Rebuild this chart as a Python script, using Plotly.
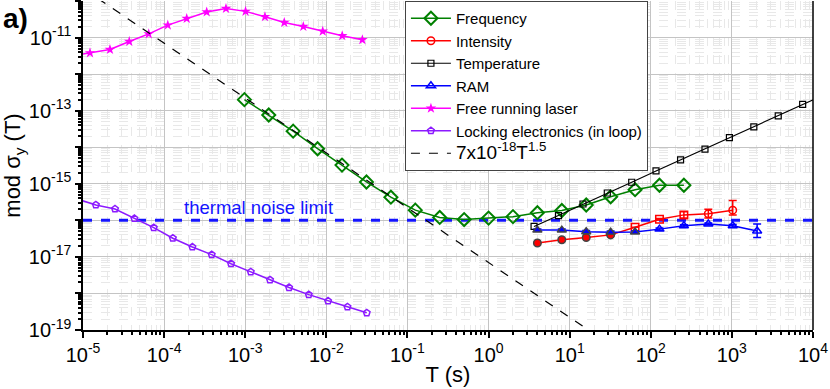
import plotly.graph_objects as go

# averaging times (s) and modified Allan deviations
freq_tau = [0.000977, 0.00195, 0.0039, 0.0078, 0.0156, 0.03125, 0.0625, 0.125, 0.25, 0.5,
            1, 2, 4, 8, 16, 32, 64, 128, 256]
freq_sig = [2.0e-13, 7.6e-14, 2.75e-14, 9.1e-15, 3.24e-15, 1.12e-15, 4.3e-16, 1.9e-16, 1.2e-16,
            1.05e-16, 1.15e-16, 1.26e-16, 1.62e-16, 1.86e-16, 2.63e-16, 4.4e-16, 6.9e-16,
            9.1e-16, 9.1e-16]

# listed from the longest tau so the legend shows the open marker
int_tau = [1024, 512, 256, 128, 64, 32, 16, 8, 4]
int_sig = [1.9e-16, 1.51e-16, 1.41e-16, 1.07e-16, 6.5e-17, 4.0e-17, 3.4e-17, 2.95e-17, 2.4e-17]
int_err_hi = [1.6e-16, 5e-17, 3e-17, 5e-18, 0, 0, 0, 0, 0]
int_err_lo = [5e-17, 3.5e-17, 2.5e-17, 5e-18, 0, 0, 0, 0, 0]
int_sym = ["circle-open"] * 2 + ["square-open"] * 3 + ["circle"] * 4

temp_tau = [3.64, 7.28, 14.6, 29.1, 58.2, 116, 233, 466, 932, 1864, 3728, 7456, 14900]
temp_sig = [6.8e-17, 1.35e-16, 2.8e-16, 5.6e-16, 1.1e-15, 2.24e-15, 4.5e-15, 8.9e-15,
            1.82e-14, 3.6e-14, 7.2e-14, 1.48e-13, 2.95e-13]

ram_tau = [2048, 1024, 512, 256, 128, 64, 32, 16, 8, 4]
ram_sig = [5.1e-17, 7.1e-17, 7.9e-17, 7.1e-17, 5.75e-17, 4.8e-17, 4.7e-17, 4.9e-17, 5.4e-17, 5.4e-17]
ram_err_hi = [2.8e-17, 6e-18, 5e-18, 5e-18, 4e-18, 4e-18, 4e-18, 4e-18, 4e-18, 4e-18]
ram_err_lo = [1.7e-17, 6e-18, 5e-18, 5e-18, 4e-18, 4e-18, 4e-18, 4e-18, 4e-18, 4e-18]
ram_sym = ["triangle-up-open"] * 5 + ["triangle-up"] * 5

free_tau = [7.0e-6, 1.22e-5, 2.15e-5, 3.72e-5, 6.46e-5, 1.11e-4, 1.90e-4, 3.35e-4, 5.79e-4,
            1.01e-3, 1.75e-3, 3.03e-3, 5.20e-3, 9.03e-3, 1.57e-2, 2.78e-2]
free_sig = [3.1e-12, 3.8e-12, 4.7e-12, 7.8e-12, 1.26e-11, 2.19e-11, 3.31e-11, 5.0e-11, 6.2e-11,
            5.2e-11, 3.7e-11, 2.57e-11, 2.0e-11, 1.48e-11, 1.12e-11, 8.7e-12]

lock_tau = [8.26e-6, 1.44e-5, 2.48e-5, 4.30e-5, 7.45e-5, 1.28e-4, 2.23e-4, 3.86e-4, 6.68e-4,
            1.17e-3, 2.02e-3, 3.47e-3, 6.07e-3, 1.05e-2, 1.82e-2, 3.15e-2]
lock_sig = [3.9e-16, 2.63e-16, 2.04e-16, 1.12e-16, 6.3e-17, 3.24e-17, 1.86e-17, 1.15e-17, 6.5e-18,
            3.9e-18, 2.34e-18, 1.45e-18, 9.3e-19, 6.2e-19, 4.3e-19, 2.95e-19]

# 7e-18 * tau^-1.5 end points
fit_tau = [1e-5, 1e2]
fit_sig = [2.21e-10, 7.0e-21]

thermal_tau = [1e-5, 1e4]
thermal_sig = [1e-16, 1e-16]

x_exp = list(range(-5, 5))
y_exp = list(range(-19, -9))

FONT = "Arial, Liberation Sans, sans-serif"

fig = go.Figure()

fig.add_trace(go.Scatter(x=thermal_tau, y=thermal_sig, mode="lines", showlegend=False,
                         line=dict(color="#1414ff", width=3, dash="dash")))

fig.add_trace(go.Scatter(x=freq_tau, y=freq_sig, name="Frequency", mode="lines+markers",
                         line=dict(color="#008000", width=1.5),
                         marker=dict(symbol="diamond-open", size=10, color="#008000",
                                     line=dict(width=2))))
fig.add_trace(go.Scatter(x=int_tau, y=int_sig, name="Intensity", mode="lines+markers",
                         line=dict(color="#ff0000", width=1.5),
                         marker=dict(symbol=int_sym, size=7.5, color="#ff0000", line=dict(width=1.5)),
                         error_y=dict(type="data", array=int_err_hi, arrayminus=int_err_lo,
                                      color="#ff0000", thickness=1.5, width=4)))
fig.add_trace(go.Scatter(x=temp_tau, y=temp_sig, name="Temperature", mode="lines+markers",
                         line=dict(color="#000000", width=1.2),
                         marker=dict(symbol="square-open", size=6, color="#000000",
                                     line=dict(width=1.2))))
fig.add_trace(go.Scatter(x=ram_tau, y=ram_sig, name="RAM", mode="lines+markers",
                         line=dict(color="#0000ff", width=1.5),
                         marker=dict(symbol=ram_sym, size=8, color="#0000ff", line=dict(width=1.5)),
                         error_y=dict(type="data", array=ram_err_hi, arrayminus=ram_err_lo,
                                      color="#0000ff", thickness=1.5, width=4)))
fig.add_trace(go.Scatter(x=free_tau, y=free_sig, name="Free running laser", mode="lines+markers",
                         line=dict(color="#ff00ff", width=1.5),
                         marker=dict(symbol="star", size=8, color="#ff00ff")))
fig.add_trace(go.Scatter(x=lock_tau, y=lock_sig, name="Locking electronics (in loop)",
                         mode="lines+markers",
                         line=dict(color="#8c1aff", width=1.5),
                         marker=dict(symbol="pentagon-open", size=7, color="#8c1aff",
                                     line=dict(width=1.5))))
fig.add_trace(go.Scatter(x=fit_tau, y=fit_sig,
                         name='<span style="font-size:19px">7x10<sup>-18</sup>T<sup>1.5</sup></span>',
                         mode="lines", line=dict(color="#000000", width=1.2, dash="dash")))

minor_x = [k * 10.0 ** e for e in range(-5, 4) for k in range(2, 10)]
minor_y = [k * 10.0 ** e for e in range(-19, -10) for k in range(2, 10)]

axis_common = dict(
    type="log", tickmode="array",
    ticks="outside", ticklen=6, tickwidth=1.5, tickcolor="black",
    showline=True, linecolor="black", linewidth=1.5,
    showgrid=True, gridcolor="#c4c4c4", gridwidth=1,
    tickfont=dict(size=20, color="black"),
    zeroline=False,
)
minor_common = dict(tickmode="array", ticks="outside", ticklen=3, tickcolor="black",
                    showgrid=True, gridcolor="#e8e8e8", griddash="dash", gridwidth=0.8)

fig.update_xaxes(
    range=[-5, 4],
    tickvals=[10.0 ** e for e in x_exp],
    ticktext=["10<sup>%d</sup>" % e for e in x_exp],
    minor=dict(tickvals=minor_x, **minor_common),
    title=dict(text="T (s)", font=dict(size=22, color="black"), standoff=2),
    **axis_common,
)
fig.update_yaxes(
    range=[-19, -10],
    tickvals=[10.0 ** e for e in y_exp],
    ticktext=["10<sup>%d</sup>" % e if e % 2 else "" for e in y_exp],
    minor=dict(tickvals=minor_y, **minor_common),
    title=dict(text="mod σ<sub>y</sub> (T)", font=dict(size=22, color="black"), standoff=6),
    **axis_common,
)

fig.add_annotation(x=-2.84, y=-15.66, xref="x", yref="y", text="thermal noise limit",
                   showarrow=False, font=dict(size=18.5, color="#1414ff", family=FONT))
fig.add_annotation(x=-0.113, y=1.0, xref="paper", yref="paper", xanchor="left", yanchor="top",
                   text="<b>a)</b>", showarrow=False, font=dict(size=28, color="black", family=FONT))

# right frame line
fig.add_shape(type="line", xref="paper", yref="paper", x0=1, x1=1, y0=0, y1=1,
              line=dict(color="black", width=1.5))

fig.update_layout(
    width=830, height=389,
    margin=dict(l=83, r=17, t=1, b=59),
    paper_bgcolor="white", plot_bgcolor="white",
    font=dict(family=FONT, color="black"),
    legend=dict(x=0.441, y=1.0, xanchor="left", yanchor="top",
                bgcolor="white", bordercolor="#444444", borderwidth=1,
                font=dict(size=15, color="black"), itemwidth=40, tracegroupgap=0),
)

fig.write_html("out.html", config={"displayModeBar": False},
               post_script="document.body.style.margin='0px';")
